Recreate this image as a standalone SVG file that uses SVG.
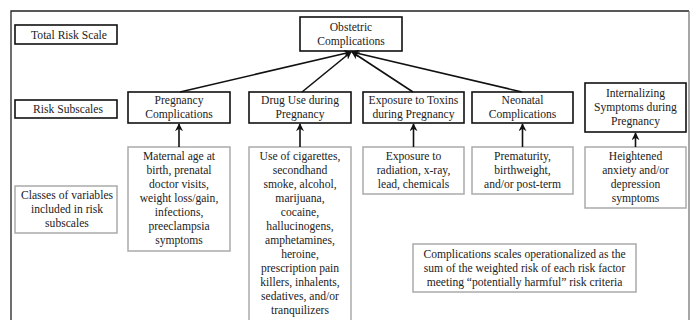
<svg xmlns="http://www.w3.org/2000/svg" width="693" height="320" viewBox="0 0 693 320">
<style>
text{font-family:"Liberation Serif","Times New Roman",serif;font-size:11.6px;fill:#222;text-anchor:middle}
.blk{fill:#fff;stroke:#111;stroke-width:1.6}
.gry{fill:#fff;stroke:#aaa;stroke-width:1.5}
.con{stroke:#111;stroke-width:1.6;fill:none;marker-end:url(#ah)}
</style>
<defs>
<marker id="ah" viewBox="0 0 10 10" refX="9" refY="5" markerWidth="5" markerHeight="5" orient="auto" markerUnits="strokeWidth">
<path d="M0,0 L10,5 L0,10 L3,5 Z" fill="#111"/>
</marker>
</defs>
<rect x="0" y="0" width="693" height="320" fill="#fff"/>
<path d="M11,320 V11 H689" fill="none" stroke="#222" stroke-width="1.3"/>
<path d="M689,11 V320" fill="none" stroke="#777" stroke-width="1.3"/>
<g id="total-risk-scale"><rect class="blk" x="15" y="25" width="102" height="19"/><text x="69" y="39">Total Risk Scale</text></g>
<g id="risk-subscales"><rect class="blk" x="15" y="100" width="102" height="18"/><text x="68" y="113">Risk Subscales</text></g>
<g id="classes"><rect class="gry" x="15" y="186" width="102" height="47"/><text x="67" y="199">Classes of variables</text><text x="67" y="213">included in risk</text><text x="67" y="227">subscales</text></g>
<g id="obstetric"><rect class="blk" x="300" y="17" width="102" height="34"/><text x="351" y="31">Obstetric</text><text x="351" y="45">Complications</text></g>
<g id="pregnancy-complications"><rect class="blk" x="128" y="92" width="102" height="31"/><text x="179" y="104">Pregnancy</text><text x="179" y="118">Complications</text></g>
<g id="drug-use"><rect class="blk" x="249" y="92" width="102" height="31"/><text x="300" y="104">Drug Use during</text><text x="300" y="118">Pregnancy</text></g>
<g id="toxins"><rect class="blk" x="363" y="92" width="101" height="31"/><text x="413.5" y="104">Exposure to Toxins</text><text x="413.5" y="118">during Pregnancy</text></g>
<g id="neonatal"><rect class="blk" x="472" y="92" width="101" height="31"/><text x="522.5" y="104">Neonatal</text><text x="522.5" y="118">Complications</text></g>
<g id="internalizing"><rect class="blk" x="585" y="83" width="101" height="49"/><text x="635.5" y="97">Internalizing</text><text x="635.5" y="111">Symptoms during</text><text x="635.5" y="125">Pregnancy</text></g>
<g id="maternal"><rect class="gry" x="128" y="147" width="102" height="104"/><text x="179" y="160">Maternal age at</text><text x="179" y="174">birth, prenatal</text><text x="179" y="188">doctor visits,</text><text x="179" y="202">weight loss/gain,</text><text x="179" y="216">infections,</text><text x="179" y="230">preeclampsia</text><text x="179" y="244">symptoms</text></g>
<g id="drug-vars"><rect class="gry" x="249" y="147" width="102" height="180"/><text x="300" y="160">Use of cigarettes,</text><text x="300" y="174">secondhand</text><text x="300" y="188">smoke, alcohol,</text><text x="300" y="202">marijuana,</text><text x="300" y="216">cocaine,</text><text x="300" y="230">hallucinogens,</text><text x="300" y="244">amphetamines,</text><text x="300" y="258">heroine,</text><text x="300" y="272">prescription pain</text><text x="300" y="286">killers, inhalents,</text><text x="300" y="300">sedatives, and/or</text><text x="300" y="314">tranquilizers</text></g>
<g id="toxin-vars"><rect class="gry" x="363" y="147" width="101" height="47"/><text x="413.5" y="160">Exposure to</text><text x="413.5" y="174">radiation, x-ray,</text><text x="413.5" y="188">lead, chemicals</text></g>
<g id="neonatal-vars"><rect class="gry" x="472" y="147" width="101" height="47"/><text x="522.5" y="160">Prematurity,</text><text x="522.5" y="174">birthweight,</text><text x="522.5" y="188">and/or post-term</text></g>
<g id="internalizing-vars"><rect class="gry" x="585" y="147" width="101" height="61"/><text x="635.5" y="160">Heightened</text><text x="635.5" y="174">anxiety and/or</text><text x="635.5" y="188">depression</text><text x="635.5" y="202">symptoms</text></g>
<g id="note"><rect class="gry" x="413" y="244" width="223" height="48"/><text x="524.5" y="258">Complications scales operationalized as the</text><text x="524.5" y="272">sum of the weighted risk of each risk factor</text><text x="524.5" y="286">meeting “potentially harmful” risk criteria</text></g>
<g id="connectors">
<line class="con" x1="180" y1="92" x2="351" y2="52"/>
<line class="con" x1="302" y1="92" x2="351" y2="52"/>
<line class="con" x1="413" y1="92" x2="352" y2="52"/>
<line class="con" x1="522" y1="92" x2="352" y2="52"/>
<line class="con" x1="179" y1="147" x2="179" y2="124"/>
<line class="con" x1="300" y1="147" x2="300" y2="124"/>
<line class="con" x1="413.5" y1="147" x2="413.5" y2="124"/>
<line class="con" x1="522.5" y1="147" x2="522.5" y2="124"/>
<line class="con" x1="635.5" y1="147" x2="635.5" y2="133"/>
</g>
</svg>
